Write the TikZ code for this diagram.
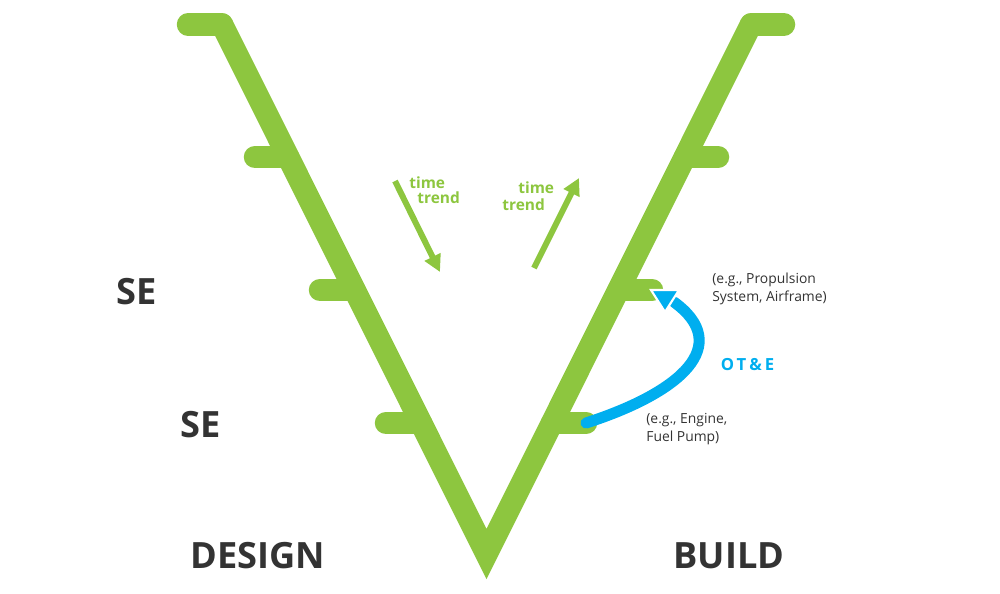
\documentclass[tikz,border=0pt]{standalone}
\usepackage{fontspec}
\setmainfont{Open Sans}
\newfontfamily\otefont[LetterSpace=18]{Open Sans}
\usetikzlibrary{arrows.meta}
\definecolor{vgreen}{HTML}{8DC63F}
\definecolor{oteblue}{HTML}{00AEEF}
\definecolor{labelgray}{HTML}{333333}
\begin{document}
\begin{tikzpicture}[x=0.02cm, y=-0.02cm,
        vline/.style={line width=12.8pt, color=vgreen, line cap=round},
        trendarrow/.style={line width=3.4pt, color=vgreen, -{Triangle[length=9.6pt, width=9.6pt]}},
        phase/.style={text=labelgray, inner sep=0pt, font=\fontsize{20.6}{24}\selectfont\bfseries},
        trendtext/.style={text=vgreen, inner sep=0pt, anchor=base west, font=\fontsize{8.8}{10}\selectfont\bfseries},
        example/.style={text=labelgray, inner sep=0pt, anchor=north west, align=left, font=\fontsize{7.9}{10.2}\selectfont}]
        \useasboundingbox (0,0) rectangle (1000,593);
        % the V
        \coordinate (topL) at (222,24.5);
        \coordinate (tip) at (486.5,554);
        \coordinate (topR) at (751,24.5);
        \coordinate (barL) at (188,24.5);
        \coordinate (barR) at (784,24.5);
        \draw [vline, line join=miter] (topL) -- (tip) -- (topR);
        \draw [vline] (barL) -- (topL);
        \draw [vline] (barR) -- (topR);
        % ticks
        \coordinate (armL1) at (288,157);
        \coordinate (armL2) at (354.5,290);
        \coordinate (armL3) at (421,423);
        \coordinate (tickL1) at (255,157);
        \coordinate (tickL2) at (320,290);
        \coordinate (tickL3) at (386,423);
        \coordinate (armR1) at (685,157);
        \coordinate (armR2) at (618.5,290);
        \coordinate (armR3) at (552,423);
        \coordinate (tickR1) at (718,157);
        \coordinate (tickR2) at (652,290);
        \coordinate (tickR3) at (586,423);
        \draw [vline] (tickL1) -- (armL1);
        \draw [vline] (tickL2) -- (armL2);
        \draw [vline] (tickL3) -- (armL3);
        \draw [vline] (tickR1) -- (armR1);
        \draw [vline] (tickR2) -- (armR2);
        \draw [vline] (tickR3) -- (armR3);
        % time trend
        \coordinate (downA) at (395,181);
        \coordinate (downB) at (440,272);
        \coordinate (upA) at (534,268);
        \coordinate (upB) at (579,178);
        \draw [trendarrow] (downA) -- (downB);
        \draw [trendarrow] (upA) -- (upB);
        \node[trendtext] (time1) at (409,188) {time};
        \node[trendtext] (trend1) at (417,203) {trend};
        \node[trendtext] (time2) at (518,193) {time};
        \node[trendtext] (trend2) at (502,210) {trend};
        % OT&E
        \coordinate (oteend) at (674,302);
        \draw [line width=6.3pt, color=oteblue, line cap=round] (tickR3) .. controls (682,392) and (733,345) .. (oteend);
        \coordinate (headA) at (651,290);
        \coordinate (headB) at (679,290);
        \coordinate (headC) at (665,312);
        \filldraw [fill=oteblue, draw=white, line width=1.2pt] (headA) -- (headB) -- (headC) -- cycle;
        \node[text=oteblue, font=\fontsize{9.5}{11}\selectfont\otefont\bfseries] (ote) at (747.5,365) {OT\&E};
        % labels
        \node[example] (upper) at (712,273) {(e.g., Propulsion\\System, Airframe)};
        \node[example] (lower) at (646,413) {(e.g., Engine,\\Fuel Pump)};
        \node[phase] (se1) at (137,291.5) {SE};
        \node[phase] (se2) at (201,425) {SE};
        \node[phase] (design) at (258,555.5) {DESIGN};
        \node[phase] (build) at (729,555.5) {BUILD};
\end{tikzpicture}
\end{document}
